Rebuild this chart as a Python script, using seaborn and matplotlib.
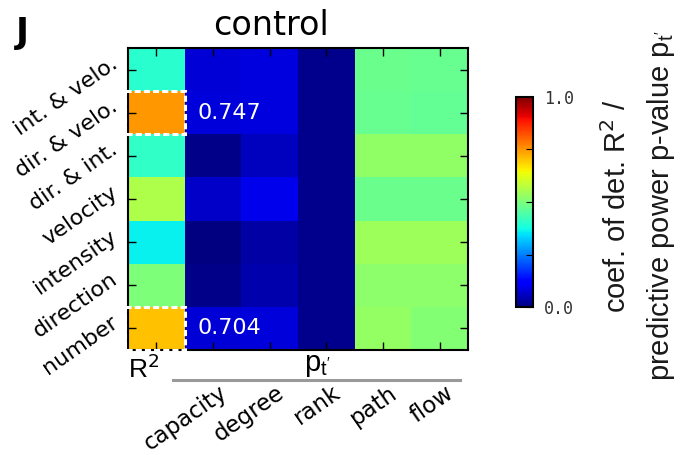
import numpy as np
import pandas as pd
import matplotlib
matplotlib.use("Agg")
import matplotlib.pyplot as plt
import matplotlib.transforms as mtrans
import seaborn as sns
from matplotlib.patches import Rectangle
from matplotlib.lines import Line2D

# rows top -> bottom
satirlar = ["int. & velo.", "dir. & velo.", "dir. & int.", "velocity", "intensity", "direction", "number"]
sutunlar = ["capacity", "degree", "rank", "path", "flow"]

r2 = [0.40, 0.747, 0.41, 0.56, 0.36, 0.50, 0.704]
capacity = [0.075, 0.08, 0.01, 0.065, 0.0, 0.01, 0.077]
degree = [0.085, 0.085, 0.055, 0.095, 0.033, 0.04, 0.08]
rank = [0.015, 0.015, 0.012, 0.012, 0.012, 0.012, 0.012]
path = [0.48, 0.474, 0.527, 0.48, 0.542, 0.52, 0.53]
flow = [0.474, 0.47, 0.527, 0.48, 0.542, 0.52, 0.51]

vurgulu = [1, 6]  # rows with boxed R^2

df = pd.DataFrame({"R2": r2, "capacity": capacity, "degree": degree,
                   "rank": rank, "path": path, "flow": flow}, index=satirlar)

plt.rcParams["font.family"] = ["DejaVu Sans"]

fig = plt.figure(figsize=(6.82, 4.55), dpi=100)
ax = fig.add_axes([0.1877, 0.2308, 0.4985, 0.6637])
cax = fig.add_axes([0.7566, 0.325, 0.025, 0.462])

#1. heatmap
sns.heatmap(df, ax=ax, cmap="jet", vmin=0, vmax=1, cbar_ax=cax,
            xticklabels=[""] + sutunlar, yticklabels=satirlar)

for s in ax.spines.values():
    s.set_visible(True)
    s.set_linewidth(1.5)
ax.tick_params(direction="in", top=True, right=True, length=6, width=1)
ax.tick_params(axis="x", pad=29, labelsize=16.5)
ax.tick_params(axis="y", pad=11, labelsize=16)

def kaydir(dx, dy):
    return mtrans.ScaledTranslation(dx / 100, dy / 100, fig.dpi_scale_trans)

for t in ax.get_xticklabels():
    t.set_rotation(35)
    t.set_ha("right")
    t.set_va("center")
    t.set_rotation_mode("anchor")
    t.set_transform(t.get_transform() + kaydir(12, 0))
for t in ax.get_yticklabels():
    t.set_rotation(35)
    t.set_ha("right")
    t.set_va("center")
    t.set_rotation_mode("anchor")
    t.set_transform(t.get_transform() + kaydir(3, 8))

#2. boxed R^2 cells + values
for r in vurgulu:
    ax.add_patch(Rectangle((-0.05, r), 1.05, 1, fill=False, ec="white",
                           lw=2.2, ls=(0, (2, 1)), clip_on=False, zorder=5))
    ax.text(1.22, r + 0.5, "%.3f" % r2[r], color="white", fontsize=16,
            ha="left", va="center")

# group labels below axes
ax.text(0.0, -0.015, "R$^2$", transform=ax.transAxes, ha="left", va="top",
        fontsize=19, family="Liberation Sans")
ax.text(0.556, -0.005, "p$_{\\mathregular{t'}}$", transform=ax.transAxes, ha="center", va="top",
        fontsize=21, family="Liberation Sans")
fig.add_artist(Line2D([173 / 682, 460 / 682], [1 - 380 / 455, 1 - 380 / 455],
                      color="#999999", lw=2.2))

#3. colorbar
cb = ax.collections[0].colorbar
cb.outline.set_linewidth(1.5)
cb.set_ticks([0, 0.25, 0.5, 0.75, 1.0])
cb.set_ticklabels(["0.0", "", "", "", "1.0"])
cax.tick_params(direction="in", length=5, pad=8, labelsize=12, labelcolor="#333333")
for t in cax.get_yticklabels():
    t.set_family("DejaVu Sans Mono")

fig.text(0.938, 0.547, "coef. of det. R$^2$ /\npredictive power p-value p$_{\\mathregular{t'}}$",
         rotation=90, ha="center", va="center", multialignment="center", linespacing=1.55,
         fontsize=21, family="Liberation Sans", color="#1a1a1a")

fig.text(271 / 682, 1 - 35 / 455, "control", fontsize=24, ha="center", va="baseline")
fig.text(0.024, 0.905, "J", fontsize=25, fontweight="bold")

fig.savefig("out.png", dpi=100)
